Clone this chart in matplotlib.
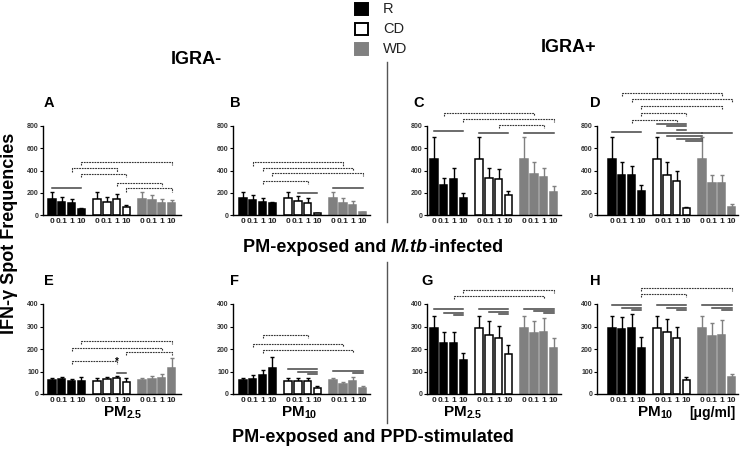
import numpy as np
import matplotlib
matplotlib.use("Agg")
import matplotlib.pyplot as plt
from matplotlib.patches import Rectangle
from matplotlib.lines import Line2D

plt.rcParams['font.family'] = ['Liberation Sans', 'DejaVu Sans']
plt.rcParams['mathtext.fontset'] = 'custom'
plt.rcParams['mathtext.rm'] = 'Liberation Sans:bold'
plt.rcParams['mathtext.it'] = 'Liberation Sans:italic:bold'
plt.rcParams['mathtext.bf'] = 'Liberation Sans:bold'

#data (R 0/0.1/1/10, CD 0/0.1/1/10, WD 0/0.1/1/10)
doses = ["0", "0.1", "1", "10"]
groups = ["R", "CD", "WD"]
a_mean = [140, 119, 110, 54, 140, 119, 140, 69, 143, 134, 110, 104]
a_err = [69, 39, 36, 12, 69, 39, 45, 18, 66, 42, 30, 27]
b_mean = [149, 134, 119, 104, 149, 128, 110, 15, 149, 110, 90, 25]
b_err = [60, 45, 30, 12, 60, 42, 39, 3, 60, 39, 35, 6]
c_mean = [507, 266, 322, 149, 507, 334, 328, 179, 507, 367, 343, 207]
c_err = [194, 68, 102, 45, 194, 90, 81, 36, 194, 111, 81, 54]
d_mean = [507, 358, 358, 215, 507, 364, 304, 60, 507, 290, 290, 75]
d_err = [194, 114, 81, 54, 194, 108, 93, 15, 194, 74, 74, 21]
e_mean = [62, 67, 59, 59, 59, 65, 70, 55, 62, 67, 73, 114]
e_err = [8, 10, 6, 18, 14, 12, 11, 15, 11, 13, 14, 45]
f_mean = [62, 67, 84, 114, 59, 59, 56, 28, 62, 44, 59, 28]
f_err = [11, 17, 23, 49, 14, 14, 17, 8, 11, 11, 15, 7]
g_mean = [295, 228, 228, 151, 295, 262, 247, 176, 295, 270, 274, 204]
g_err = [53, 49, 46, 33, 53, 62, 57, 42, 53, 54, 65, 45]
h_mean = [295, 287, 292, 203, 295, 277, 250, 62, 295, 258, 262, 77]
h_err = [53, 54, 64, 49, 53, 56, 46, 15, 52, 59, 67, 12]

#comparisons (bar i, bar j, height, dashed)
a_brk = [(0, 3, 239, 0), (3, 11, 478, 1), (2, 6, 418, 1), (3, 7, 367, 1), (6, 10, 290, 1), (7, 11, 239, 1)]
b_brk = [(1, 9, 472, 1), (2, 10, 424, 1), (3, 11, 382, 1), (2, 6, 307, 1), (5, 7, 200, 0), (8, 11, 239, 0)]
c_brk = [(1, 9, 917, 1), (3, 11, 867, 1), (6, 10, 813, 1), (0, 3, 759, 0), (4, 7, 738, 0), (8, 11, 738, 0)]
d_brk = [(1, 10, 1098, 1), (2, 11, 1044, 1), (3, 10, 981, 1), (3, 7, 918, 1), (2, 6, 858, 1),
         (4, 7, 819, 0), (5, 7, 801, 0), (6, 7, 765, 0), (0, 3, 745, 0), (4, 8, 740, 0),
         (5, 8, 708, 0), (6, 8, 687, 0), (7, 8, 663, 0), (8, 11, 741, 0)]
e_brk = [(3, 11, 237, 1), (2, 10, 206, 1), (7, 11, 188, 1), (2, 6, 148, 1), (6, 7, 95, 0)]
f_brk = [(2, 6, 262, 1), (1, 9, 222, 1), (2, 10, 196, 1), (4, 7, 111, 0), (5, 7, 99, 0), (6, 7, 89, 0),
         (8, 11, 104, 0), (10, 11, 92, 0)]
g_brk = [(3, 11, 462, 1), (2, 10, 435, 1), (0, 3, 376, 0), (1, 3, 362, 0), (2, 3, 350, 0),
         (4, 7, 376, 0), (5, 7, 365, 0), (6, 7, 354, 0), (8, 11, 380, 0), (9, 11, 370, 0), (10, 11, 358, 0)]
h_brk = [(3, 11, 470, 1), (3, 7, 444, 1), (0, 3, 395, 0), (1, 3, 382, 0), (2, 3, 373, 0),
         (4, 7, 395, 0), (5, 7, 382, 0), (6, 7, 373, 0), (8, 11, 395, 0), (9, 11, 382, 0), (10, 11, 373, 0)]

W, H = 740, 457
fig = plt.figure(figsize=(7.4, 4.57), dpi=100)

def fx(x):
    return x / W

def fy(y):
    return 1 - y / H

gray = "#808080"
face = ["black"] * 4 + ["white"] * 4 + [gray] * 4
edge = ["black"] * 8 + [gray] * 4
pos = np.array([g * 4.6 + k for g in range(3) for k in range(4)])
sp = 9.8  # px per bar step

def panel(L, R, c0, top, bot, ymax, step, means, errs, brks, letter, lx):
    ax = fig.add_axes([fx(L), fy(bot), fx(R - L), (bot - top) / H])
    x0 = -(c0 - L) / sp
    ax.set_xlim(x0, x0 + (R - L) / sp)
    ax.set_ylim(0, ymax)
    for i in range(12):
        ax.bar(pos[i], means[i], width=0.75, color=face[i], edgecolor=edge[i], linewidth=1.1, zorder=2)
        ax.errorbar(pos[i], means[i], yerr=[[0], [errs[i]]], color=edge[i], lw=1, capsize=1.6,
                    capthick=1, zorder=1)
    tick = ymax * 0.035
    for i, j, y, dashed in brks:
        if dashed:
            ax.plot([pos[i], pos[i], pos[j], pos[j]], [y - tick, y, y, y - tick], color="#333333",
                    lw=0.8, ls=(0, (1.6, 0.8)), clip_on=False)
        else:
            ax.plot([pos[i], pos[j]], [y, y], color="#444444", lw=1.1, clip_on=False)
    ax.set_xticks(pos)
    ax.set_xticklabels(doses * 3, fontsize=6, fontweight="bold", color="#222222")
    ax.tick_params(axis="x", length=0, pad=2)
    ax.set_yticks(np.arange(0, ymax + 1, step))
    ax.tick_params(axis="y", labelsize=5, length=2, width=0.8, pad=1, labelcolor="#333333")
    for t in ax.get_yticklabels():
        t.set_fontweight("bold")
    for s in ["top", "right"]:
        ax.spines[s].set_visible(False)
    ax.spines["left"].set_linewidth(1)
    ax.spines["bottom"].set_linewidth(1)
    ax.patch.set_alpha(0)
    fig.text(fx(lx), fy(top - 23), letter, fontsize=10.5, fontweight="bold", va="center", ha="left")
    return ax

#top row
panel(43, 181, 52, 126, 215, 800, 200, a_mean, a_err, a_brk, "A", 44)
panel(233, 370, 243, 126, 215, 800, 200, b_mean, b_err, b_brk, "B", 230)
panel(427, 561, 434, 126, 215, 800, 200, c_mean, c_err, c_brk, "C", 413)
panel(597, 738, 612, 126, 215, 800, 200, d_mean, d_err, d_brk, "D", 590)
#bottom row
panel(43, 181, 52, 304, 394, 400, 100, e_mean, e_err, e_brk, "E", 44)
panel(233, 370, 243, 304, 394, 400, 100, f_mean, f_err, f_brk, "F", 230)
panel(427, 561, 434, 304, 394, 400, 100, g_mean, g_err, g_brk, "G", 421)
panel(597, 738, 612, 304, 394, 400, 100, h_mean, h_err, h_brk, "H", 590)

fig.text(fx(117), fy(362), "*", fontsize=7, fontweight="bold", ha="center", va="center")

#headers
fig.text(fx(196), fy(60), "IGRA-", fontsize=13, fontweight="bold", ha="center", va="center")
fig.text(fx(569), fy(48), "IGRA+", fontsize=13, fontweight="bold", ha="center", va="center")

# mixed upright / italic title, placed piece by piece
rend = fig.canvas.get_renderer()
pieces = [("PM-exposed and ", "normal"), ("M.tb", "italic"), ("-infected", "normal")]
objs = [fig.text(0, fy(247), s, fontsize=13, fontweight="bold", style=st, va="center", ha="left")
        for s, st in pieces]
widths = [o.get_window_extent(rend).width for o in objs]
x = 373 - sum(widths) / 2
for o, w in zip(objs, widths):
    o.set_x(fx(x))
    x += w

fig.text(fx(373), fy(438), "PM-exposed and PPD-stimulated", fontsize=13, fontweight="bold",
         ha="center", va="center")
fig.text(fx(10), fy(233), "IFN-γ Spot Frequencies", fontsize=13, fontweight="bold", rotation=90,
         ha="center", va="center")
fig.text(fx(123), fy(413), r"PM$_{\mathrm{2.5}}$", fontsize=11, fontweight="bold", ha="center", va="center")
fig.text(fx(299), fy(413), r"PM$_{\mathrm{10}}$", fontsize=11, fontweight="bold", ha="center", va="center")
fig.text(fx(463), fy(413), r"PM$_{\mathrm{2.5}}$", fontsize=11, fontweight="bold", ha="center", va="center")
fig.text(fx(655), fy(413), r"PM$_{\mathrm{10}}$", fontsize=11, fontweight="bold", ha="center", va="center")
fig.text(fx(736), fy(413), "[μg/ml]", fontsize=10, fontweight="bold", ha="right", va="center")

#legend
leg_y = [3, 23, 43]
leg_c = ["black", "white", gray]
leg_e = ["black", "black", gray]
for y, c, e, lab in zip(leg_y, leg_c, leg_e, groups):
    fig.add_artist(Rectangle((fx(355), fy(y + 12)), fx(13), 12 / H, facecolor=c, edgecolor=e,
                             lw=1.4, transform=fig.transFigure))
    fig.text(fx(383), fy(y + 6), lab, fontsize=10.5, color="#222222", ha="left", va="center")

#divider
for y1, y2 in [(62, 222), (262, 423)]:
    fig.add_artist(Line2D([fx(387), fx(387)], [fy(y1), fy(y2)], color="#555555", lw=1,
                          transform=fig.transFigure))

plt.savefig("out.png", dpi=100)
